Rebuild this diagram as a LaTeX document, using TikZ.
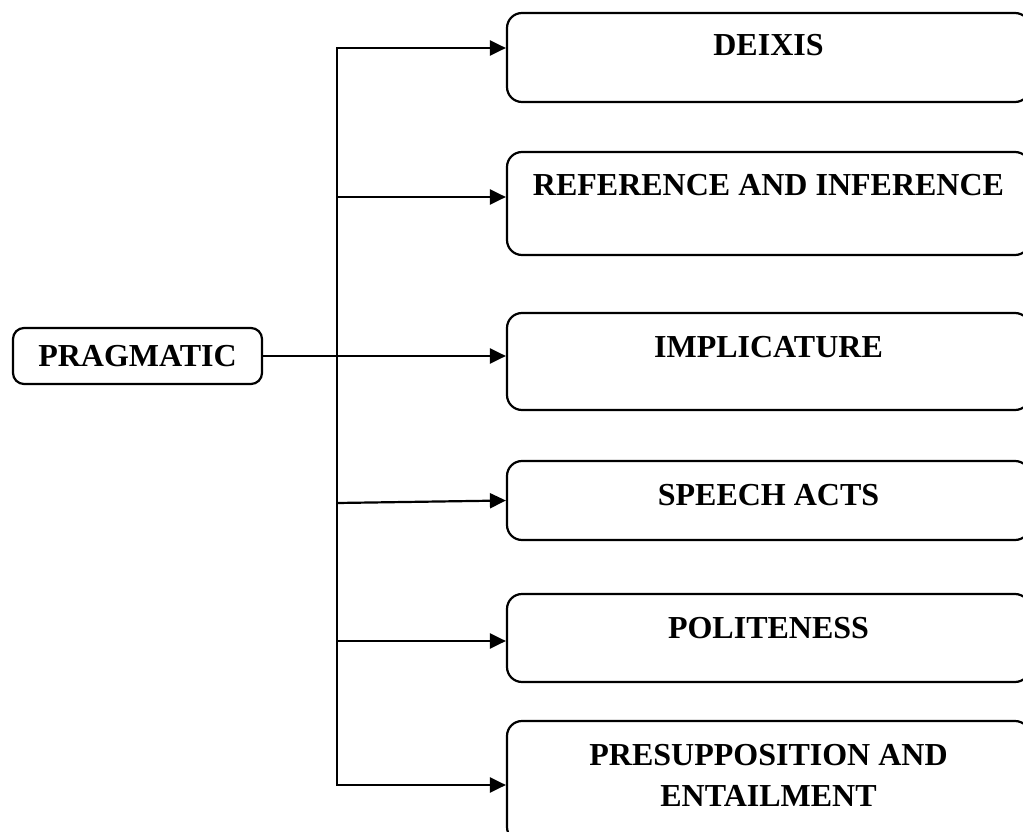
\documentclass[tikz,border=0pt]{standalone}
\usepackage{fontspec}
\setmainfont{Liberation Serif}
\usetikzlibrary{positioning, arrows.meta}

\tikzset{
  topic/.style={draw, line width=2.2pt, rounded corners=15pt, minimum width=523pt, inner sep=0pt},
  root/.style={draw, line width=2.2pt, rounded corners=11pt, minimum width=249pt, minimum height=56pt,
    inner sep=0pt, font=\fontsize{32}{41}\selectfont\bfseries},
  lbl/.style={inner sep=0pt, align=center, font=\fontsize{32}{41}\selectfont\bfseries},
  link/.style={line width=2.2pt},
  arr/.style={line width=2.2pt, -{Triangle[length=16pt,width=15pt]}}
}

\begin{document}
\begin{tikzpicture}[x=1pt, y=-1pt]
        \useasboundingbox (0,0) rectangle (1023,832);
        % root
        \node[root] (pragmatic) at (137.5,356) {PRAGMATIC};
        % topics
        \node[topic, minimum height=89pt] (deixis) at (768.5,57.5) {};
        \node[topic, minimum height=103pt] (reference) at (768.5,203.5) {};
        \node[topic, minimum height=97pt] (implicature) at (768.5,361.5) {};
        \node[topic, minimum height=79pt] (speech) at (768.5,500.5) {};
        \node[topic, minimum height=88pt] (politeness) at (768.5,638) {};
        \node[topic, minimum height=121pt] (presup) at (768.5,781.5) {};
        \node[lbl] (deixis_t) [below=22pt of deixis.north] {DEIXIS};
        \node[lbl] (reference_t) [below=23pt of reference.north] {REFERENCE AND INFERENCE};
        \node[lbl] (implicature_t) [below=24pt of implicature.north] {IMPLICATURE};
        \node[lbl] (speech_t) [below=24pt of speech.north] {SPEECH ACTS};
        \node[lbl] (politeness_t) [below=24pt of politeness.north] {POLITENESS};
        \node[lbl] (presup_t) [below=24pt of presup.north] {PRESUPPOSITION AND\\ENTAILMENT};
        % trunk
        \coordinate (t_1) at (337,48);
        \coordinate (t_2) at (337,197);
        \coordinate (t_4) at (337,503);
        \coordinate (t_5) at (337,641);
        \coordinate (t_6) at (337,785);
        \draw[link] (t_1) -- (t_6);
        \draw[arr] (t_6) -- (t_1) -- (t_1 -| deixis.west);
        \draw[arr] (t_2) -- (t_2 -| reference.west);
        \draw[arr] (pragmatic.east) -- (pragmatic.east -| implicature.west);
        \draw[arr] (t_4) -- (speech.west);
        \draw[arr] (t_5) -- (t_5 -| politeness.west);
        \draw[arr] (t_1) -- (t_6) -- (t_6 -| presup.west);
\end{tikzpicture}
\end{document}
